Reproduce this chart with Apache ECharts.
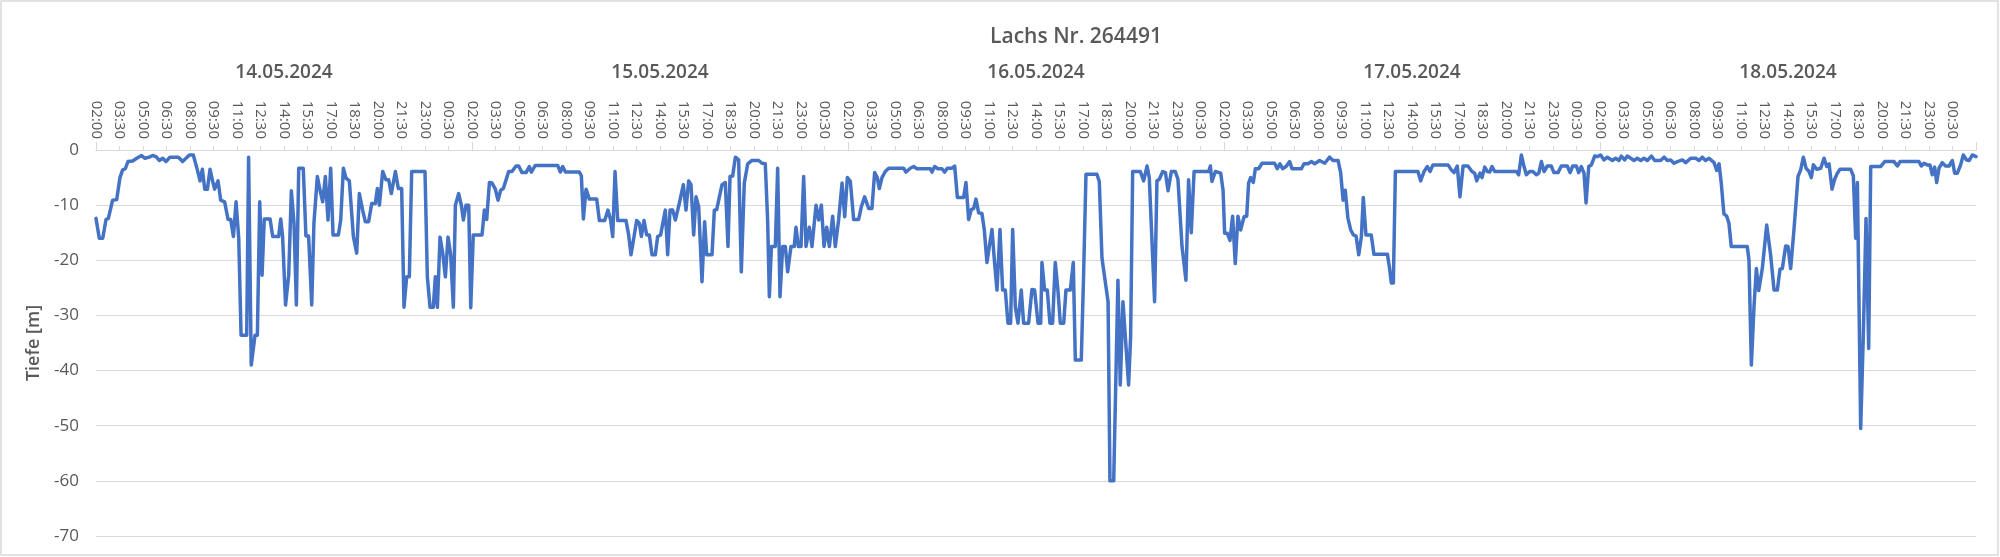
<!DOCTYPE html>
<html><head><meta charset="utf-8">
<script src="https://cdn.jsdelivr.net/npm/echarts@6/dist/echarts.min.js"></script>
<style>html,body{margin:0;padding:0;background:#fff}#c{width:2000px;height:557px}</style>
</head><body><div id="c"></div>
<script>
// Title, date groups, axis settings
const titel = 'Lachs Nr. 264491';
const datumLabels = ['14.05.2024', '15.05.2024', '16.05.2024', '17.05.2024', '18.05.2024'];
const startUhrzeit = 2;          // first tick 02:00
const zeitTickStunden = 1.5;     // label every 1.5 h
const gesamtStunden = 120;       // 5 days
const tiefeMin = -70, tiefeMax = 0, tiefeSchritt = 10;

// Readings: hours since 14.05.2024 02:00 (t..) and depth in m (d..)
const t14 = [0,0.21,0.43,0.64,0.79,1.06,1.32,1.53,1.70,1.87,2.04,2.34,2.6,2.91,3.13,3.4,3.62,3.83,4.04,4.26,4.47,4.72,5.26,5.53,5.96,6.21,6.47,6.64,6.79,6.94,7.11,7.28,7.45,7.57,7.79,7.96,8.21,8.43,8.6,8.77,8.94,9.11,9.26,9.62,9.74,9.91,10.15,10.3,10.45,10.6,10.74,11.11,11.28,11.66,11.79,11.91,12.1,12.3,12.47,12.64,12.79,12.94,13.23,13.4,13.57,13.77,13.91,14.13,14.3,14.47,14.64,14.81,14.98,15.13,15.47,15.62,15.79,15.96,16.17,16.43,16.64,16.81,17.02,17.19,17.4,17.6,17.83,17.96,18.09,18.3,18.51,18.68,18.85,19.11,19.3,19.51,19.66,19.83,20.0,20.15,21.0,21.15,21.32,21.53,21.66,21.79,21.96,22.13,22.3,22.47,22.64,22.81,22.94,23.15,23.32,23.45,23.62,23.79];
const d14 = [-12.4,-16,-16,-12.6,-12.4,-9.1,-9,-5,-3.6,-3.4,-2.1,-2,-1.5,-1,-1.5,-1.3,-1,-1.2,-1.9,-1.5,-2.1,-1.3,-1.3,-2.1,-0.9,-0.9,-3.6,-5.6,-3.5,-7.1,-7.1,-3.5,-5.7,-7.1,-5.6,-9.1,-9.4,-12.6,-12.6,-15.7,-9.4,-16,-33.6,-33.6,-1.3,-39,-33.6,-33.6,-9.4,-22.7,-12.5,-12.5,-15.7,-15.7,-12.5,-15.7,-28.1,-22.7,-7.4,-13.3,-28.1,-3.3,-3.3,-15.6,-15.6,-28.1,-13.3,-4.8,-7.3,-9.4,-4.8,-12.7,-3.3,-15.4,-15.4,-12.7,-3.3,-5.1,-5.6,-15.7,-18.7,-7.9,-10.9,-13,-13,-9.7,-9.7,-7,-10,-3.9,-5.4,-5.4,-7.9,-3.9,-7,-7,-28.5,-23,-23,-3.9,-3.9,-23,-28.5,-28.5,-23,-28.5,-15.8,-18.7,-23,-15.8,-19,-28.5,-10,-7.9,-10,-12.7,-10,-10];

const t15 = [23.92,24.08,24.64,24.79,24.94,25.11,25.28,25.49,25.66,25.83,26.0,26.21,26.34,26.55,26.81,26.98,27.19,27.45,27.66,27.79,28.04,29.47,29.64,29.79,29.96,30.85,30.98,31.11,31.28,31.49,31.96,32.13,32.47,32.68,32.85,32.98,33.13,33.3,33.83,34.0,34.15,34.36,34.51,34.68,34.81,34.98,35.15,35.32,35.49,35.7,35.85,36.04,36.34,36.49,36.64,36.81,36.98,37.23,37.49,37.66,37.83,37.98,38.15,38.3,38.47,38.68,38.85,38.98,39.32,39.47,39.62,39.79,39.96,40.17,40.34,40.47,40.64,40.81,41.02,41.19,41.38,41.6,41.87,42.3,42.51,42.72,42.87,42.98,43.11,43.36,43.51,43.66,43.83,44.0,44.15,44.36,44.57,44.68,44.83,45.0,45.17,45.32,45.53,45.7,45.96,46.13,46.3,46.47,46.64,46.81,47.02,47.19,47.4];
const d15 = [-28.6,-15.4,-15.4,-10.9,-12.6,-5.9,-6,-7.1,-9.1,-7.3,-7,-5.1,-3.9,-3.9,-2.9,-2.9,-4.1,-4.1,-3,-4,-2.8,-2.8,-4,-3,-4,-4,-4.7,-12.5,-7.1,-8.9,-8.9,-12.8,-12.8,-10.9,-12.7,-15.7,-3.9,-12.8,-12.8,-15.4,-19,-15.4,-12.8,-13.3,-15.7,-12.8,-15.4,-15.4,-19,-19,-15.7,-15.4,-10.9,-19,-10.9,-10.9,-12.7,-9.7,-6.3,-10.9,-5.6,-6.3,-15.4,-8.5,-10.3,-23.9,-13,-19,-19,-10.9,-10.8,-8.5,-6.3,-5.9,-17.5,-4.8,-4.7,-1.3,-1.8,-22.1,-6,-2.5,-1.9,-1.9,-2.4,-2.5,-12.7,-26.6,-17.5,-17.5,-3.3,-26.6,-17.5,-17.5,-22.1,-17.5,-17.5,-14,-17.5,-17.5,-4.8,-17.5,-14,-17.5,-10,-12.7,-10,-17.5,-14,-17.5,-12,-17.5,-12.7];

const t16 = [47.62,47.79,47.96,48.15,48.36,48.68,48.85,49.06,49.32,49.53,49.7,49.87,50.0,50.17,50.38,50.6,51.55,51.7,51.98,52.19,52.4,53.26,53.36,53.53,53.74,54.0,54.17,54.34,54.64,54.81,54.98,55.38,55.53,55.7,55.87,56.02,56.17,56.34,56.55,56.7,56.87,57.02,57.19,57.36,57.51,57.7,57.87,58.04,58.21,58.38,58.51,58.68,58.85,59.06,59.21,59.53,59.74,59.91,60.13,60.3,60.38,60.55,60.72,60.89,61.06,61.23,61.4,61.55,61.77,61.91,62.19,62.38,62.51,62.89,63.04,63.19,63.89,64.04,64.21,64.6,64.72,64.96,65.23,65.38,65.55,65.91,66.04,66.17,66.66,66.87,67.09,67.23,67.4,67.57,67.72,67.87,68.09,68.26,68.43,68.64,68.89,69.06,69.32,69.57,69.74,69.91,70.09,71.02,71.13,71.23,71.45];
const d16 = [-6,-12.1,-5,-5.7,-12.6,-12.6,-10.3,-8.5,-10.6,-10.6,-4.1,-5,-7,-5,-3.9,-3.3,-3.3,-4,-3.3,-3,-3.4,-3.4,-4,-3,-3.4,-3.4,-4,-3.3,-3.3,-2.9,-8.6,-8.6,-5.9,-12.6,-10.8,-10.6,-8.9,-11.4,-11.5,-14.5,-20.4,-17.5,-14.4,-20.6,-25.4,-14.4,-25.4,-25.4,-31.4,-31.4,-14.4,-28.4,-31.4,-25.4,-31.4,-31.4,-25.3,-25.4,-31.4,-31.4,-20.4,-25.4,-25.4,-31.4,-31.4,-20.4,-25.4,-31.4,-31.4,-25.4,-25.4,-20.4,-38.1,-38.1,-22.4,-4.4,-4.4,-5.7,-19.6,-27.5,-60,-60,-23.6,-42.6,-27.5,-42.6,-33.9,-3.9,-3.9,-5.6,-2.9,-5,-16.3,-27.5,-5.6,-5.3,-3.9,-4.1,-7.4,-3.9,-3.9,-5.3,-17.5,-23.6,-5.4,-15,-3.9,-3.9,-2.9,-5.7,-3.9];

const t17 = [71.79,71.94,72.04,72.21,72.38,72.55,72.72,72.89,73.06,73.28,73.45,73.57,73.7,73.87,74.0,74.21,74.43,75.23,75.4,75.57,75.74,75.96,76.19,76.34,76.94,77.11,77.36,77.57,77.79,78.1,78.43,78.74,78.96,79.28,79.45,79.6,79.74,79.91,80.09,80.26,80.43,80.6,80.77,80.89,81.06,81.4,81.57,82.43,82.57,82.68,82.81,82.94,84.38,84.55,84.77,84.98,85.15,85.34,86.3,86.51,86.68,86.89,87.06,87.26,87.57,87.83,88.0,88.13,88.34,88.47,88.64,88.81,88.96,89.11,89.28,90.66,90.81,90.98,91.15,91.3,91.51,91.72,91.94,92.09,92.26,92.43,92.64,92.89,93.06,93.32,93.53,93.91,94.09,94.26,94.49,94.64,94.81,94.98,95.11,95.28,95.45];
const d17 = [-4.2,-7.3,-15.1,-15.1,-16.4,-12,-20.6,-12,-14.5,-12.1,-12,-6,-5,-5.9,-3.4,-3.4,-2.4,-2.4,-3.4,-2.5,-3.4,-3,-2.1,-3.4,-3.4,-2.5,-2.5,-2.1,-2.5,-1.9,-2.4,-1.3,-1.9,-1.9,-4.2,-9.1,-7.3,-12.4,-14.5,-15.4,-15.6,-19,-15.7,-8.6,-15.4,-15.4,-18.9,-18.9,-21.5,-24.1,-24.1,-3.9,-3.9,-5.6,-3.9,-3,-3.9,-2.7,-2.7,-3.6,-4.1,-2.9,-8.5,-2.9,-2.9,-3.9,-4.2,-5.6,-4.2,-5,-3.1,-3.9,-4,-3,-3.9,-3.9,-4.5,-0.9,-3,-4.5,-3.9,-3.9,-4.5,-4.2,-2.1,-3.9,-2.9,-2.9,-4.1,-4.1,-2.9,-2.9,-4.1,-2.9,-2.9,-4.1,-3,-4.2,-9.6,-3,-2.7];

const t18 = [95.66,95.83,96.04,96.26,96.47,96.79,97.0,97.21,97.36,97.57,97.74,97.96,98.17,98.38,98.6,98.81,99.02,99.28,99.49,99.87,100.09,100.3,100.51,100.72,100.94,101.26,101.47,101.79,102.11,102.32,102.53,102.74,102.96,103.28,103.45,103.6,103.74,103.91,104.09,104.23,104.38,105.4,105.51,105.66,105.83,105.98,106.13,106.36,106.64,106.89,107.11,107.32,107.49,107.64,107.85,108.0,108.17,108.38,108.64,108.81,108.98,109.15,109.34,109.49,109.62,109.83,110.09,110.3,110.47,110.62,110.81,110.98,111.15,111.32,112.0,112.17,112.32,112.43,112.64,112.81,112.98,113.15,113.28,113.91,114.17,114.77,114.98,115.15,116.36,116.51,116.68,116.89,117.06,117.21,117.36,117.49,117.64,117.85,118.06,118.28,118.49,118.64,118.81,119.02,119.19,119.4,119.57,119.77,120];
const d18 = [-1.1,-1.2,-0.9,-1.8,-1.3,-1.9,-1.5,-1.9,-1.1,-1.8,-1.1,-1.5,-1.9,-1.5,-1.9,-1.5,-1.9,-1.1,-1.9,-1.9,-1.3,-1.9,-1.8,-2.4,-2.1,-1.8,-2.3,-1.5,-1.5,-1.9,-1.3,-1.9,-1.5,-2.3,-3.7,-2.5,-6,-11.6,-12,-13.3,-17.5,-17.5,-20,-39,-28.4,-21.5,-25.5,-21.5,-13.6,-19,-25.4,-25.4,-21.6,-21.5,-17.4,-17.5,-21.5,-14.5,-4.8,-3.6,-1.3,-3.3,-3.9,-5,-2.7,-3.5,-3.3,-1.5,-3,-2.5,-7.1,-5.3,-4.2,-3.5,-3.5,-4.7,-16,-5.9,-50.5,-33.3,-12.4,-36,-3,-3,-2.1,-2.1,-2.9,-2.1,-2.1,-2.9,-2.4,-2.7,-2.7,-4.5,-3.1,-5.9,-3.3,-2.3,-2.9,-2.9,-1.9,-4.2,-4.2,-2.7,-0.9,-1.8,-1.9,-0.9,-1.2];

const zeiten = [].concat(t14, t15, t16, t17, t18);
const tiefen = [].concat(d14, d15, d16, d17, d18);
const punkte = zeiten.map((t, i) => [t, tiefen[i]]);

const FONT = "'Open Sans', 'Liberation Sans', sans-serif";
const GRAU = '#595959';
const LINIE = '#d9d9d9';

function uhrzeit(h) {
  if (h >= gesamtStunden) return '';
  const min = Math.round(((startUhrzeit + h) * 60) % 1440);
  const hh = String(Math.floor(min / 60)).padStart(2, '0');
  const mm = String(min % 60).padStart(2, '0');
  return hh + ':' + mm;
}

const chart = echarts.init(document.getElementById('c'), null, {renderer: 'canvas'});
chart.setOption({
  animation: false,
  backgroundColor: '#ffffff',
  textStyle: {fontFamily: FONT},
  title: {
    text: titel, left: 1071, top: 22, textAlign: 'center',
    textStyle: {fontFamily: FONT, fontSize: 21, fontWeight: 600, color: GRAU}
  },
  graphic: [{
    type: 'rect', silent: true,
    shape: {x: 1, y: 1, width: 1997, height: 554},
    style: {fill: 'none', stroke: LINIE, lineWidth: 1.5}
  }],
  grid: {left: 96, right: 24, top: 150, bottom: 21, containLabel: false},
  xAxis: [{
    type: 'value', position: 'top', min: 0, max: gesamtStunden, interval: zeitTickStunden,
    axisLine: {show: true, onZero: false, lineStyle: {color: LINIE, width: 1}},
    axisTick: {show: true, length: 4, lineStyle: {color: LINIE}},
    axisLabel: {rotate: 90, fontSize: 15, color: GRAU, margin: 11, fontFamily: FONT, formatter: uhrzeit, showMaxLabel: true},
    splitLine: {show: false}
  }, {
    type: 'category', position: 'top', offset: 53, data: datumLabels, boundaryGap: true,
    axisLine: {show: true, lineStyle: {color: LINIE, width: 1}},
    axisTick: {show: true, length: 8, lineStyle: {color: LINIE}},
    axisLabel: {fontSize: 19, fontWeight: 600, color: GRAU, margin: 15, fontFamily: FONT},
    splitLine: {show: false}
  }],
  yAxis: {
    type: 'value', min: tiefeMin, max: tiefeMax, interval: tiefeSchritt,
    name: 'Tiefe [m]', nameLocation: 'middle', nameGap: 52, nameRotate: 90,
    nameTextStyle: {fontSize: 18, fontWeight: 600, color: GRAU, fontFamily: FONT},
    axisLine: {show: false}, axisTick: {show: false},
    axisLabel: {fontSize: 17, color: GRAU, margin: 17, fontFamily: FONT},
    splitLine: {lineStyle: {color: LINIE, width: 1}}
  },
  series: [{
    type: 'line', xAxisIndex: 0, data: punkte, showSymbol: false, symbol: 'none',
    lineStyle: {color: '#4472C4', width: 3.5, join: 'round', cap: 'round'},
    itemStyle: {color: '#4472C4'}, smooth: false, sampling: null
  }]
});
</script></body></html>
